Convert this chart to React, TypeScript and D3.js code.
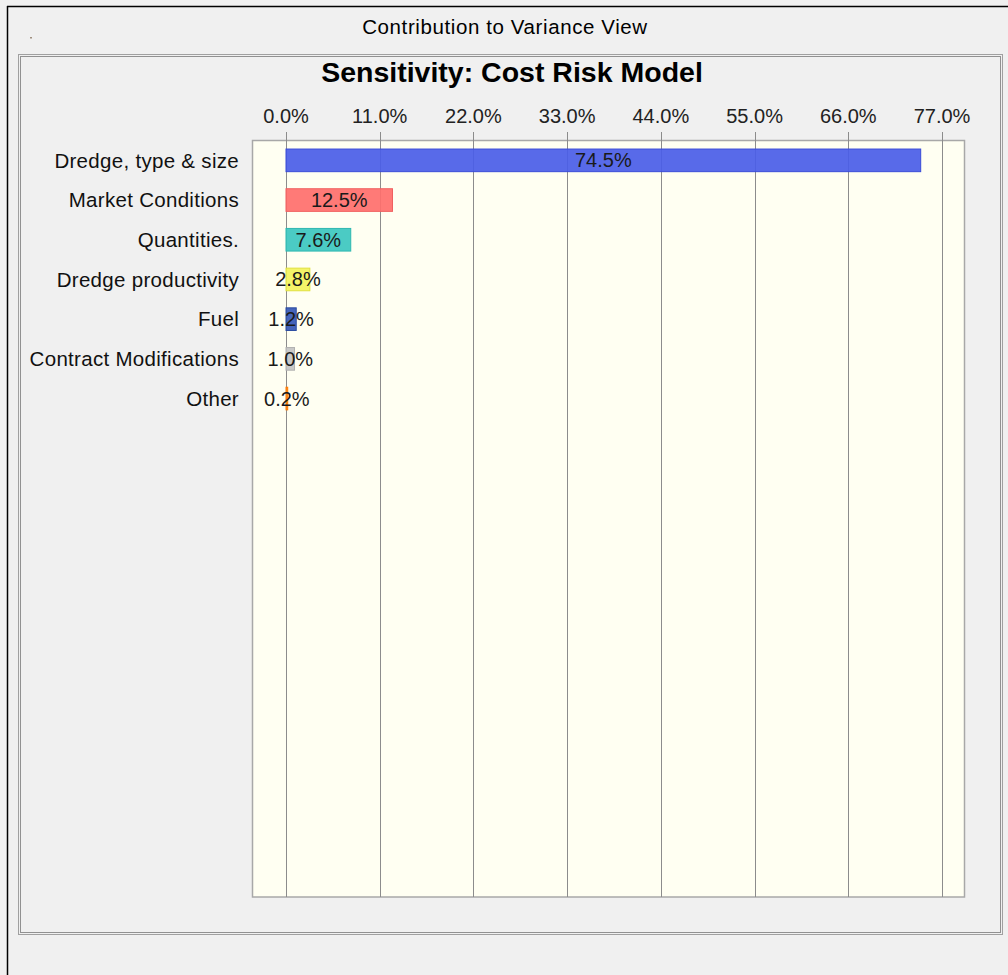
import React, { useEffect, useRef } from "react";
import * as d3 from "d3";

const categories = [
  "Dredge, type & size",
  "Market Conditions",
  "Quantities.",
  "Dredge productivity",
  "Fuel",
  "Contract Modifications",
  "Other",
];
const contributions = [74.5, 12.5, 7.6, 2.8, 1.2, 1.0, 0.2];
const barColors = ["#4a5de8", "#ff6f6c", "#3cc7c0", "#f3f35c", "#3658b6", "#c4c4c4", "#ff8a1e"];
const barStrokes = ["#3a4cd8", "#f06060", "#2fb8b0", "#e0e040", "#2a4aa0", "#b0b0b0", "#ff7a00"];
const tickValues = [0, 11, 22, 33, 44, 55, 66, 77];

const FONT = "'Liberation Sans', Arial, sans-serif";

function SensitivityChart() {
  const ref = useRef<HTMLDivElement>(null);

  useEffect(() => {
    const width = 1008;
    const height = 975;

    d3.select(ref.current).select("svg").remove();

    const svg = d3
      .select(ref.current)
      .append("svg")
      .attr("width", width)
      .attr("height", height)
      .style("display", "block")
      .style("font-family", FONT);

    // window background
    svg.append("rect").attr("width", width).attr("height", height).attr("fill", "#f0f0f0");

    // black window edges (top and left)
    svg.append("line").attr("x1", 7).attr("x2", width).attr("y1", 6.5).attr("y2", 6.5)
      .attr("stroke", "#000").attr("stroke-width", 1.5);
    svg.append("line").attr("x1", 7.5).attr("x2", 7.5).attr("y1", 6).attr("y2", height)
      .attr("stroke", "#000").attr("stroke-width", 1.5);

    svg.append("text")
      .attr("x", 505).attr("y", 34)
      .attr("text-anchor", "middle")
      .style("font-size", "20.5px")
      .style("letter-spacing", "0.6px")
      .attr("fill", "#000")
      .text("Contribution to Variance View");

    svg.append("rect").attr("x", 30).attr("y", 37).attr("width", 2).attr("height", 1.5).attr("fill", "#a09080");

    // inner framed panel
    svg.append("rect")
      .attr("x", 18.5).attr("y", 54.5).attr("width", 984).attr("height", 880)
      .attr("fill", "none").attr("stroke", "#a0a0a0");
    svg.append("rect")
      .attr("x", 20.5).attr("y", 56.5).attr("width", 980).attr("height", 876)
      .attr("fill", "none").attr("stroke", "#333").attr("stroke-dasharray", "1 1");

    svg.append("text")
      .attr("x", 512).attr("y", 82)
      .attr("text-anchor", "middle")
      .style("font-size", "28.5px")
      .style("font-weight", "bold")
      .attr("fill", "#000")
      .text("Sensitivity: Cost Risk Model");

    const plotLeft = 252.5;
    const plotRight = 964.5;
    const plotTop = 140.5;
    const plotBottom = 897;

    const x = d3.scaleLinear().domain([0, 77]).range([286, 942]);
    const step = 39.7;
    const y = d3
      .scaleBand()
      .domain(categories)
      .range([plotTop, plotTop + step * categories.length])
      .paddingInner(0.43)
      .paddingOuter(0.215);

    // plot area
    svg.append("rect")
      .attr("x", plotLeft).attr("y", plotTop)
      .attr("width", plotRight - plotLeft).attr("height", plotBottom - plotTop)
      .attr("fill", "#fffff2").attr("stroke", "#a8a8a8").attr("stroke-width", 1.5);

    // grid lines + tick labels
    const grid = svg.append("g");
    tickValues.forEach((t) => {
      const gx = Math.round(x(t)) + 0.5;
      grid.append("line")
        .attr("x1", gx).attr("x2", gx).attr("y1", 132).attr("y2", plotBottom)
        .attr("stroke", "#8c8c8c").attr("stroke-width", 1);
      grid.append("text")
        .attr("x", x(t)).attr("y", 123)
        .attr("text-anchor", "middle")
        .style("font-size", "20px")
        .attr("fill", "#222")
        .text(d3.format(".1f")(t) + "%");
    });

    // bars
    svg.append("g")
      .selectAll("rect")
      .data(contributions)
      .join("rect")
      .attr("x", x(0))
      .attr("y", (d, i) => y(categories[i]) as number)
      .attr("width", (d) => Math.max(x(d) - x(0), 1))
      .attr("height", y.bandwidth())
      .attr("fill", (d, i) => barColors[i])
      .attr("fill-opacity", 0.92)
      .attr("stroke", (d, i) => barStrokes[i])
      .attr("stroke-width", 1);

    // category labels
    svg.append("g")
      .selectAll("text")
      .data(categories)
      .join("text")
      .attr("x", 239)
      .attr("y", (d) => (y(d) as number) + y.bandwidth() / 2)
      .attr("dy", "0.35em")
      .attr("text-anchor", "end")
      .style("font-size", "20.5px")
      .style("letter-spacing", "0.3px")
      .attr("fill", "#111")
      .text((d) => d);

    // value labels centred on bars
    svg.append("g")
      .selectAll("text")
      .data(contributions)
      .join("text")
      .attr("x", (d) => (x(0) + x(d)) / 2)
      .attr("y", (d, i) => (y(categories[i]) as number) + y.bandwidth() / 2)
      .attr("dy", "0.35em")
      .attr("text-anchor", "middle")
      .style("font-size", "20px")
      .attr("fill", "#1a1a1a")
      .text((d) => d3.format(".1f")(d) + "%");
  }, []);

  return <div ref={ref}></div>;
}

export default function App() {
  return (
    <div style={{ position: "absolute", left: 0, top: 0 }}>
      <SensitivityChart />
    </div>
  );
}
